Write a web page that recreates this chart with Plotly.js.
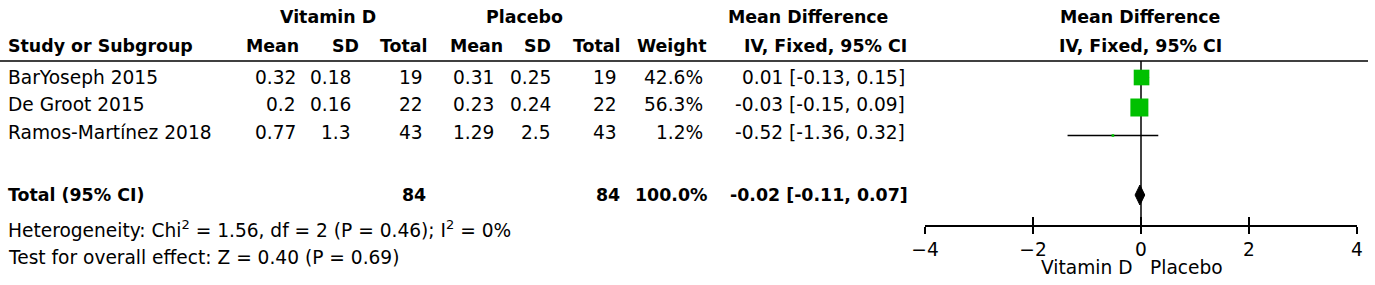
<!DOCTYPE html>
<html>
<head>
<meta charset="utf-8">
<script src="https://cdn.plot.ly/plotly-3.0.1.min.js"></script>
<style>html,body{margin:0;padding:0;background:#fff;}#chart{width:1375px;height:285px;}</style>
</head>
<body>
<div id="chart"></div>
<script>
// ---------- data ----------
const studies = ["BarYoseph 2015", "De Groot 2015", "Ramos-Martínez 2018"];
const vdMean = [0.32, 0.2, 0.77];
const vdSD = [0.18, 0.16, 1.3];
const vdTotal = [19, 22, 43];
const plMean = [0.31, 0.23, 1.29];
const plSD = [0.25, 0.24, 2.5];
const plTotal = [19, 22, 43];
const weight = [42.6, 56.3, 1.2];
const md = [0.01, -0.03, -0.52];
const ciLow = [-0.13, -0.15, -1.36];
const ciHigh = [0.15, 0.09, 0.32];
const totalLabel = "Total (95% CI)";
const totalVD = 84;
const totalPl = 84;
const totalWeight = 100.0;
const totalMD = -0.02;
const totalLow = -0.11;
const totalHigh = 0.07;
const hetText = "Heterogeneity: Chi<sup>2</sup> = 1.56, df = 2 (P = 0.46); I<sup>2</sup> = 0%";
const testText = "Test for overall effect: Z = 0.40 (P = 0.69)";
const groupLabels = ["Vitamin D", "Placebo", "Mean Difference", "Mean Difference"];
const colHeaders = ["Mean", "SD", "Total", "Mean", "SD", "Total", "Weight", "IV, Fixed, 95% CI"];
const studyHeader = "Study or Subgroup";
const plotHeader = "IV, Fixed, 95% CI";
const tickVals = [-4, -2, 0, 2, 4];
const favoursLeft = "Vitamin D";
const favoursRight = "Placebo";

// ---------- layout constants ----------
const W = 1375, H = 285;
const FONT = "DejaVu Sans, Verdana, sans-serif";
const FS = 18.6;     // regular text
const FSB = 17.4;    // bold text
const px = v => v / W;
const rowY = [77, 104.5, 132];
const markY = [77.5, 107.5, 135.5];
const totalY = 195;
const hetY = 229;
const testY = 257;
const head1Y = 17, head2Y = 46;
const lineY = 61;
const axisY = 225;
const dataRight = [297, 352, 424, 495, 552, 618, 704, 906];
const headRight = [300, 360, 429, 504, 552, 622, 707, 908];
const groupCenter = [328, 524, 808, 1140];

const fmtCI = (m, l, h) => m.toFixed(2) + " [" + l.toFixed(2) + ", " + h.toFixed(2) + "]";

const ann = [];
function txt(text, xpx, y, anchor, bold) {
  ann.push({
    text: bold ? "<b>" + text + "</b>" : text,
    x: px(xpx), xref: "paper", y: y, yref: "y",
    xanchor: anchor, yanchor: "middle", showarrow: false, borderpad: 0,
    font: {family: FONT, size: bold ? FSB : FS, color: "#000"}
  });
}

// headers
groupLabels.forEach((g, i) => txt(g, groupCenter[i], head1Y, "center", true));
txt(studyHeader, 7, head2Y, "left", true);
colHeaders.forEach((h, i) => txt(h, headRight[i], head2Y, "right", true));
txt(plotHeader, groupCenter[3], head2Y, "center", true);

// study rows
studies.forEach((s, i) => {
  const y = rowY[i];
  txt(s, 7, y, "left", false);
  const cells = [String(vdMean[i]), String(vdSD[i]), String(vdTotal[i]),
                 String(plMean[i]), String(plSD[i]), String(plTotal[i]),
                 weight[i].toFixed(1) + "%", fmtCI(md[i], ciLow[i], ciHigh[i])];
  cells.forEach((c, j) => txt(c, dataRight[j], y, "right", false));
});

// total row
txt(totalLabel, 7, totalY, "left", true);
txt(String(totalVD), 427, totalY, "right", true);
txt(String(totalPl), 621, totalY, "right", true);
txt(totalWeight.toFixed(1) + "%", 708, totalY, "right", true);
txt(fmtCI(totalMD, totalLow, totalHigh), 909, totalY, "right", true);

txt(hetText, 7, hetY, "left", false);
txt(testText, 7, testY, "left", false);

// favours labels
ann.push({text: favoursLeft, x: 0, xref: "x", y: 267, yref: "y", xanchor: "right", yanchor: "middle",
  xshift: -8, showarrow: false, borderpad: 0, font: {family: FONT, size: FS, color: "#000"}});
ann.push({text: favoursRight, x: 0, xref: "x", y: 267, yref: "y", xanchor: "left", yanchor: "middle",
  xshift: 8, showarrow: false, borderpad: 0, font: {family: FONT, size: FS, color: "#000"}});

// ---------- traces ----------
const ciX = [], ciY = [];
md.forEach((m, i) => { ciX.push(ciLow[i], ciHigh[i], null); ciY.push(markY[i], markY[i], null); });
const ciLines = {
  type: "scatter", mode: "lines", x: ciX, y: ciY,
  line: {color: "#000", width: 1.5}, connectgaps: false,
  hoverinfo: "skip", showlegend: false, xaxis: "x", yaxis: "y"
};
const sq = {
  type: "scatter", mode: "markers",
  x: md, y: markY,
  marker: {symbol: "square", color: "#00c000", opacity: 1,
           size: weight.map(w => 2.4 * Math.sqrt(w)), line: {width: 0}},
  hoverinfo: "skip", showlegend: false, xaxis: "x", yaxis: "y"
};
const dh = 10;
const diamond = {
  type: "scatter", mode: "lines",
  x: [totalLow, totalMD, totalHigh, totalMD, totalLow],
  y: [totalY, totalY - dh, totalY, totalY + dh, totalY],
  fill: "toself", fillcolor: "#000", line: {color: "#000", width: 1},
  hoverinfo: "skip", showlegend: false, xaxis: "x", yaxis: "y"
};
const dummy2 = {type: "scatter", mode: "markers", x: [0], y: [axisY], marker: {opacity: 0},
  hoverinfo: "skip", showlegend: false, xaxis: "x2", yaxis: "y"};

const axPos = 1 - axisY / H;
const dom = [px(925), px(1357)];
const layout = {
  width: W, height: H,
  margin: {l: 0, r: 0, t: 0, b: 0, pad: 0},
  paper_bgcolor: "#fff", plot_bgcolor: "rgba(0,0,0,0)",
  font: {family: FONT, size: FS, color: "#000"},
  showlegend: false,
  xaxis: {domain: dom, range: [-4, 4], anchor: "free", position: axPos,
    showgrid: false, zeroline: false, showline: true, linecolor: "#000", linewidth: 1.5,
    tickmode: "array", tickvals: tickVals, ticks: "outside", ticklen: 7, tickwidth: 1.5, tickcolor: "#000",
    ticklabelstandoff: 0,
    tickfont: {family: FONT, size: FS, color: "#000"}, fixedrange: true},
  xaxis2: {domain: dom, range: [-4, 4], anchor: "free", position: axPos, overlaying: "x",
    showgrid: false, zeroline: false, showline: false,
    tickmode: "array", tickvals: tickVals, ticks: "inside", ticklen: 8, tickwidth: 1.5, tickcolor: "#000",
    showticklabels: false, fixedrange: true},
  yaxis: {domain: [0, 1], range: [H, 0], visible: false, fixedrange: true},
  shapes: [
    {type: "line", xref: "paper", yref: "y", x0: 0, x1: px(1368), y0: lineY, y1: lineY,
     line: {color: "#000", width: 1.5}},
    {type: "line", xref: "x", yref: "y", x0: 0, x1: 0, y0: lineY, y1: axisY,
     line: {color: "#000", width: 1.5}, layer: "below"}
  ],
  annotations: ann
};

Plotly.newPlot("chart", [ciLines, sq, diamond, dummy2], layout, {staticPlot: true, displayModeBar: false});
</script>
</body>
</html>
